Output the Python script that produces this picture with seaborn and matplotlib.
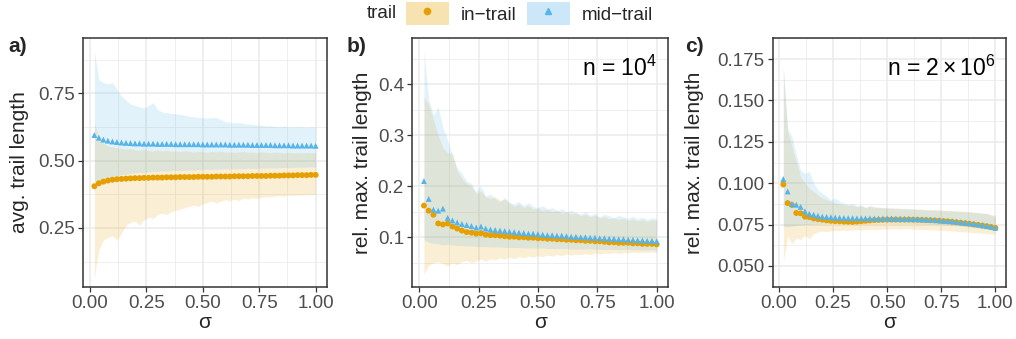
import numpy as np
import pandas as pd
import matplotlib
matplotlib.use("Agg")
import matplotlib.pyplot as plt
import matplotlib.patches as mpatches
import matplotlib.lines as mlines
import seaborn as sns

IN_COLOR  = "#E69F00"
MID_COLOR = "#56B4E9"
IN_LABEL  = "in\u2212trail"
MID_LABEL = "mid\u2212trail"

# sigma grid (0.02 .. 1.00)
sigma = np.round(np.arange(1, 51) * 0.02, 2)

# ---- panel a: avg. trail length
a_mid = [0.595, 0.585, 0.578, 0.574, 0.571, 0.569, 0.567, 0.566, 0.565, 0.564,
         0.564, 0.563, 0.563, 0.563, 0.562, 0.562, 0.562, 0.562, 0.561, 0.561,
         0.561, 0.561, 0.561, 0.561, 0.560, 0.560, 0.560, 0.560, 0.560, 0.560,
         0.559, 0.559, 0.559, 0.559, 0.559, 0.558, 0.558, 0.558, 0.558, 0.558,
         0.557, 0.557, 0.557, 0.557, 0.556, 0.556, 0.556, 0.556, 0.556, 0.555]
a_in = [0.405, 0.416, 0.422, 0.426, 0.429, 0.431, 0.432, 0.433, 0.434, 0.435,
        0.435, 0.436, 0.436, 0.437, 0.437, 0.437, 0.438, 0.438, 0.438, 0.439,
        0.439, 0.439, 0.439, 0.440, 0.440, 0.440, 0.440, 0.441, 0.441, 0.441,
        0.441, 0.442, 0.442, 0.442, 0.442, 0.443, 0.443, 0.443, 0.443, 0.444,
        0.444, 0.444, 0.445, 0.445, 0.445, 0.446, 0.446, 0.446, 0.447, 0.447]
a_mid_hi = [0.905, 0.800, 0.790, 0.785, 0.790, 0.765, 0.740, 0.725, 0.710, 0.705,
            0.700, 0.695, 0.705, 0.715, 0.690, 0.680, 0.678, 0.675, 0.674, 0.672,
            0.668, 0.665, 0.663, 0.660, 0.660, 0.658, 0.660, 0.660, 0.652, 0.645,
            0.642, 0.640, 0.642, 0.638, 0.636, 0.634, 0.632, 0.632, 0.628, 0.629,
            0.627, 0.626, 0.628, 0.625, 0.624, 0.626, 0.625, 0.624, 0.626, 0.625]
a_mid_lo = [0.390, 0.410, 0.425, 0.435, 0.440, 0.445, 0.448, 0.450, 0.452, 0.455,
            0.456, 0.455, 0.458, 0.460, 0.460, 0.462, 0.461, 0.463, 0.464, 0.463,
            0.465, 0.466, 0.465, 0.467, 0.466, 0.468, 0.467, 0.469, 0.468, 0.470,
            0.469, 0.470, 0.471, 0.470, 0.472, 0.471, 0.472, 0.473, 0.472, 0.474,
            0.473, 0.474, 0.475, 0.474, 0.475, 0.476, 0.475, 0.476, 0.477, 0.476]
a_in_hi = [0.640, 0.590, 0.565, 0.555, 0.550, 0.548, 0.545, 0.543, 0.545, 0.540,
           0.538, 0.542, 0.537, 0.536, 0.540, 0.535, 0.538, 0.534, 0.536, 0.533,
           0.537, 0.534, 0.532, 0.535, 0.533, 0.531, 0.534, 0.532, 0.536, 0.531,
           0.533, 0.530, 0.532, 0.535, 0.530, 0.532, 0.529, 0.533, 0.531, 0.529,
           0.532, 0.530, 0.528, 0.531, 0.529, 0.530, 0.528, 0.530, 0.529, 0.530]
a_in_lo = [0.065, 0.170, 0.205, 0.215, 0.220, 0.205, 0.230, 0.260, 0.270, 0.275,
           0.260, 0.280, 0.290, 0.285, 0.300, 0.305, 0.300, 0.310, 0.315, 0.320,
           0.325, 0.330, 0.335, 0.330, 0.340, 0.345, 0.350, 0.342, 0.350, 0.355,
           0.350, 0.357, 0.352, 0.360, 0.358, 0.362, 0.360, 0.364, 0.366, 0.365,
           0.368, 0.370, 0.368, 0.372, 0.370, 0.373, 0.372, 0.374, 0.373, 0.375]

# ---- panel b: rel. max. trail length, n = 10^4
b_mid = [0.210, 0.175, 0.154, 0.152, 0.156, 0.138, 0.133, 0.129, 0.126, 0.124,
         0.122, 0.119, 0.121, 0.117, 0.115, 0.114, 0.113, 0.112, 0.111, 0.110,
         0.109, 0.108, 0.107, 0.107, 0.106, 0.105, 0.104, 0.104, 0.103, 0.103,
         0.102, 0.101, 0.101, 0.100, 0.100, 0.099, 0.099, 0.098, 0.098, 0.097,
         0.097, 0.096, 0.096, 0.095, 0.095, 0.094, 0.094, 0.093, 0.093, 0.092]
b_in = [0.162, 0.152, 0.144, 0.127, 0.125, 0.127, 0.121, 0.117, 0.113, 0.110,
        0.109, 0.107, 0.108, 0.105, 0.104, 0.104, 0.103, 0.102, 0.101, 0.101,
        0.100, 0.100, 0.099, 0.099, 0.098, 0.098, 0.097, 0.097, 0.096, 0.096,
        0.095, 0.095, 0.094, 0.094, 0.093, 0.093, 0.092, 0.092, 0.091, 0.090,
        0.090, 0.089, 0.089, 0.089, 0.088, 0.088, 0.087, 0.087, 0.087, 0.086]
b_mid_hi = [0.465, 0.370, 0.340, 0.355, 0.315, 0.290, 0.260, 0.235, 0.225, 0.210,
            0.205, 0.190, 0.200, 0.180, 0.185, 0.175, 0.170, 0.178, 0.168, 0.165,
            0.170, 0.162, 0.168, 0.160, 0.158, 0.162, 0.155, 0.158, 0.152, 0.156,
            0.150, 0.153, 0.148, 0.145, 0.150, 0.143, 0.147, 0.140, 0.145, 0.142,
            0.138, 0.143, 0.140, 0.137, 0.141, 0.136, 0.139, 0.135, 0.138, 0.136]
b_mid_lo = [0.095, 0.090, 0.088, 0.087, 0.085, 0.086, 0.085, 0.084, 0.084, 0.083,
            0.083, 0.082, 0.082, 0.082, 0.081, 0.081, 0.081, 0.080, 0.080, 0.080,
            0.080, 0.079, 0.079, 0.079, 0.079, 0.079, 0.078, 0.078, 0.078, 0.078,
            0.078, 0.077, 0.077, 0.077, 0.077, 0.077, 0.077, 0.076, 0.076, 0.076,
            0.076, 0.076, 0.076, 0.076, 0.075, 0.075, 0.075, 0.075, 0.075, 0.075]
b_in_hi = [0.375, 0.360, 0.330, 0.300, 0.275, 0.265, 0.265, 0.230, 0.215, 0.205,
           0.200, 0.185, 0.190, 0.180, 0.176, 0.180, 0.172, 0.175, 0.168, 0.160,
           0.165, 0.158, 0.162, 0.155, 0.157, 0.152, 0.155, 0.150, 0.153, 0.147,
           0.150, 0.145, 0.148, 0.142, 0.145, 0.140, 0.143, 0.138, 0.140, 0.136,
           0.138, 0.135, 0.137, 0.133, 0.136, 0.132, 0.135, 0.131, 0.134, 0.133]
b_in_lo = [0.028, 0.045, 0.050, 0.052, 0.048, 0.044, 0.050, 0.046, 0.052, 0.055,
           0.050, 0.054, 0.057, 0.053, 0.058, 0.055, 0.060, 0.057, 0.061, 0.058,
           0.062, 0.060, 0.063, 0.061, 0.064, 0.062, 0.065, 0.063, 0.066, 0.064,
           0.067, 0.065, 0.067, 0.066, 0.068, 0.066, 0.069, 0.067, 0.069, 0.068,
           0.070, 0.068, 0.070, 0.069, 0.071, 0.069, 0.071, 0.070, 0.071, 0.070]

# ---- panel c: rel. max. trail length, n = 2x10^6
c_mid = [0.1025, 0.0950, 0.0875, 0.0870, 0.0857, 0.0830, 0.0815, 0.0810, 0.0803, 0.0798,
         0.0796, 0.0794, 0.0792, 0.0791, 0.0790, 0.0789, 0.0789, 0.0788, 0.0788, 0.0788,
         0.0788, 0.0787, 0.0787, 0.0787, 0.0787, 0.0787, 0.0786, 0.0786, 0.0785, 0.0785,
         0.0784, 0.0783, 0.0782, 0.0781, 0.0780, 0.0778, 0.0776, 0.0774, 0.0772, 0.0770,
         0.0767, 0.0764, 0.0761, 0.0758, 0.0755, 0.0751, 0.0746, 0.0742, 0.0737, 0.0731]
c_in = [0.0992, 0.0880, 0.0868, 0.0820, 0.0818, 0.0798, 0.0795, 0.0787, 0.0783, 0.0780,
        0.0776, 0.0773, 0.0771, 0.0770, 0.0768, 0.0767, 0.0766, 0.0768, 0.0770, 0.0773,
        0.0775, 0.0777, 0.0778, 0.0779, 0.0780, 0.0780, 0.0780, 0.0780, 0.0780, 0.0780,
        0.0779, 0.0779, 0.0778, 0.0777, 0.0776, 0.0775, 0.0773, 0.0771, 0.0769, 0.0767,
        0.0764, 0.0761, 0.0758, 0.0755, 0.0751, 0.0748, 0.0744, 0.0740, 0.0735, 0.0730]
c_mid_hi = [0.171, 0.133, 0.128, 0.117, 0.108, 0.106, 0.107, 0.100, 0.096, 0.094,
            0.092, 0.090, 0.091, 0.089, 0.088, 0.087, 0.088, 0.086, 0.087, 0.085,
            0.0865, 0.0860, 0.0850, 0.0855, 0.0848, 0.0852, 0.0845, 0.0850, 0.0843, 0.0848,
            0.0840, 0.0845, 0.0838, 0.0842, 0.0835, 0.0840, 0.0833, 0.0837, 0.0830, 0.0835,
            0.0828, 0.0832, 0.0825, 0.0830, 0.0820, 0.0825, 0.0815, 0.0820, 0.0805, 0.0800]
c_mid_lo = [0.0740, 0.0735, 0.0740, 0.0745, 0.0748, 0.0750, 0.0752, 0.0753, 0.0755, 0.0756,
            0.0757, 0.0757, 0.0758, 0.0758, 0.0759, 0.0759, 0.0760, 0.0760, 0.0760, 0.0760,
            0.0760, 0.0760, 0.0760, 0.0760, 0.0759, 0.0759, 0.0759, 0.0758, 0.0758, 0.0757,
            0.0757, 0.0756, 0.0755, 0.0754, 0.0753, 0.0752, 0.0750, 0.0748, 0.0746, 0.0744,
            0.0742, 0.0740, 0.0738, 0.0735, 0.0732, 0.0729, 0.0726, 0.0722, 0.0718, 0.0714]
c_in_hi = [0.168, 0.131, 0.122, 0.113, 0.104, 0.100, 0.097, 0.095, 0.093, 0.091,
           0.0900, 0.0890, 0.0880, 0.0875, 0.0870, 0.0868, 0.0865, 0.0860, 0.0863, 0.0855,
           0.0860, 0.0852, 0.0857, 0.0850, 0.0854, 0.0848, 0.0852, 0.0845, 0.0850, 0.0843,
           0.0848, 0.0840, 0.0846, 0.0838, 0.0843, 0.0836, 0.0841, 0.0834, 0.0838, 0.0832,
           0.0835, 0.0828, 0.0832, 0.0825, 0.0828, 0.0820, 0.0822, 0.0815, 0.0812, 0.0805]
c_in_lo = [0.0525, 0.0680, 0.0635, 0.0670, 0.0660, 0.0685, 0.0665, 0.0695, 0.0705, 0.0710,
           0.0708, 0.0712, 0.0715, 0.0713, 0.0717, 0.0715, 0.0718, 0.0720, 0.0718, 0.0721,
           0.0722, 0.0720, 0.0723, 0.0724, 0.0722, 0.0724, 0.0725, 0.0723, 0.0725, 0.0724,
           0.0723, 0.0722, 0.0721, 0.0720, 0.0719, 0.0718, 0.0717, 0.0716, 0.0714, 0.0712,
           0.0710, 0.0708, 0.0706, 0.0704, 0.0702, 0.0700, 0.0698, 0.0696, 0.0694, 0.0692]

panels = [
    dict(tag="a)", ylabel="avg. trail length", mid=a_mid, inn=a_in,
         mid_hi=a_mid_hi, mid_lo=a_mid_lo, in_hi=a_in_hi, in_lo=a_in_lo,
         yticks=[0.25, 0.50, 0.75], yfmt="{:.2f}", ylim=(0.032, 0.954),
         note=None),
    dict(tag="b)", ylabel="rel. max. trail length", mid=b_mid, inn=b_in,
         mid_hi=b_mid_hi, mid_lo=b_mid_lo, in_hi=b_in_hi, in_lo=b_in_lo,
         yticks=[0.1, 0.2, 0.3, 0.4], yfmt="{:.1f}", ylim=(0.003, 0.490),
         note=r"n = $10^4$"),
    dict(tag="c)", ylabel="rel. max. trail length", mid=c_mid, inn=c_in,
         mid_hi=c_mid_hi, mid_lo=c_mid_lo, in_hi=c_in_hi, in_lo=c_in_lo,
         yticks=[0.050, 0.075, 0.100, 0.125, 0.150, 0.175], yfmt="{:.3f}",
         ylim=(0.046, 0.1798), note=r"n = $2\times10^6$"),
]

sns.set_theme(style="white")
plt.rcParams["font.family"] = ["Liberation Sans", "DejaVu Sans"]
plt.rcParams["mathtext.fontset"] = "custom"
plt.rcParams["mathtext.rm"] = "Liberation Sans"
plt.rcParams["mathtext.it"] = "Liberation Sans:italic"

W, H = 1016, 339
fig = plt.figure(figsize=(W / 100, H / 100), dpi=100)
fig.patch.set_facecolor("white")

# panel boxes in pixels: left, right
boxes = [(83.3, 326.7), (412.3, 668.3), (772.7, 1006.0)]
top_px, bot_px = 38.3, 286.7
tag_x = [8, 347, 685]
ylab_x = [29, 372, 704]

for i, (p, (l, r)) in enumerate(zip(panels, boxes)):
    ax = fig.add_axes([l / W, 1 - bot_px / H, (r - l) / W, (bot_px - top_px) / H])

    # ribbons
    ax.fill_between(sigma, p["in_lo"], p["in_hi"], color=IN_COLOR, alpha=0.17,
                    linewidth=0, zorder=1)
    ax.fill_between(sigma, p["mid_lo"], p["mid_hi"], color=MID_COLOR, alpha=0.17,
                    linewidth=0, zorder=1)

    df = pd.DataFrame({
        "sigma": np.concatenate([sigma, sigma]),
        "value": np.concatenate([p["inn"], p["mid"]]),
        "trail": [IN_LABEL] * len(sigma) + [MID_LABEL] * len(sigma),
    })
    sns.scatterplot(data=df, x="sigma", y="value", hue="trail", style="trail",
                    palette={IN_LABEL: IN_COLOR, MID_LABEL: MID_COLOR},
                    markers={IN_LABEL: "o", MID_LABEL: "^"},
                    s=18, linewidth=0, legend=False, ax=ax, zorder=3)

    ax.set_xlim(-0.029, 1.049)
    ax.set_ylim(*p["ylim"])
    ax.set_xticks([0, 0.25, 0.5, 0.75, 1.0])
    ax.set_xticklabels(["0.00", "0.25", "0.50", "0.75", "1.00"])
    ax.set_xticks([0.125, 0.375, 0.625, 0.875], minor=True)
    yt = p["yticks"]
    ax.set_yticks(yt)
    ax.set_yticklabels([p["yfmt"].format(v) for v in yt])
    ymin_t = [(a + b) / 2 for a, b in zip(yt[:-1], yt[1:])]
    step = yt[1] - yt[0]
    ymin_t = [yt[0] - step / 2] + ymin_t + [yt[-1] + step / 2]
    ax.set_yticks(ymin_t, minor=True)

    ax.grid(which="major", color="#EBEBEB", lw=1.1, zorder=0)
    ax.grid(which="minor", color="#EBEBEB", lw=0.55, zorder=0)
    ax.set_axisbelow(True)
    for s in ax.spines.values():
        s.set_color("#333333")
        s.set_linewidth(1.1)
    ax.tick_params(which="major", length=3.5, width=0.9, color="#333333",
                   labelsize=13.5, labelcolor="#4D4D4D", pad=2.5,
                   bottom=True, left=True)
    ax.tick_params(which="minor", length=0)

    ax.set_xlabel("\u03c3", fontsize=15, labelpad=1)
    ax.set_ylabel(p["ylabel"], fontsize=15)
    ax.yaxis.set_label_coords((ylab_x[i] - l) / (r - l), 0.5)

    if p["note"]:
        ax.text(0.955, 0.93, p["note"], transform=ax.transAxes, ha="right",
                va="top", fontsize=16.5, color="black")

    fig.text(tag_x[i] / W, 1 - 37 / H, p["tag"], fontsize=15, weight="bold",
             va="top", ha="left")

# legend at top
fig.text(367 / W, 1 - 13.5 / H, "trail", fontsize=13.5, va="center", ha="left")
h_in = (mpatches.Patch(facecolor=IN_COLOR, alpha=0.3, linewidth=0),
        mlines.Line2D([], [], marker="o", color=IN_COLOR, ls="", ms=4.5))
h_mid = (mpatches.Patch(facecolor=MID_COLOR, alpha=0.3, linewidth=0),
         mlines.Line2D([], [], marker="^", color=MID_COLOR, ls="", ms=5))
fig.legend(handles=[h_in, h_mid], labels=[IN_LABEL, MID_LABEL], ncol=2,
           loc="center", bbox_to_anchor=(529.5 / W, 1 - 13.5 / H),
           frameon=False, fontsize=13.5, handlelength=2.3, handleheight=1.45,
           handletextpad=0.65, columnspacing=0.55, borderpad=0, borderaxespad=0)

fig.savefig("out.png", dpi=100, facecolor="white")
